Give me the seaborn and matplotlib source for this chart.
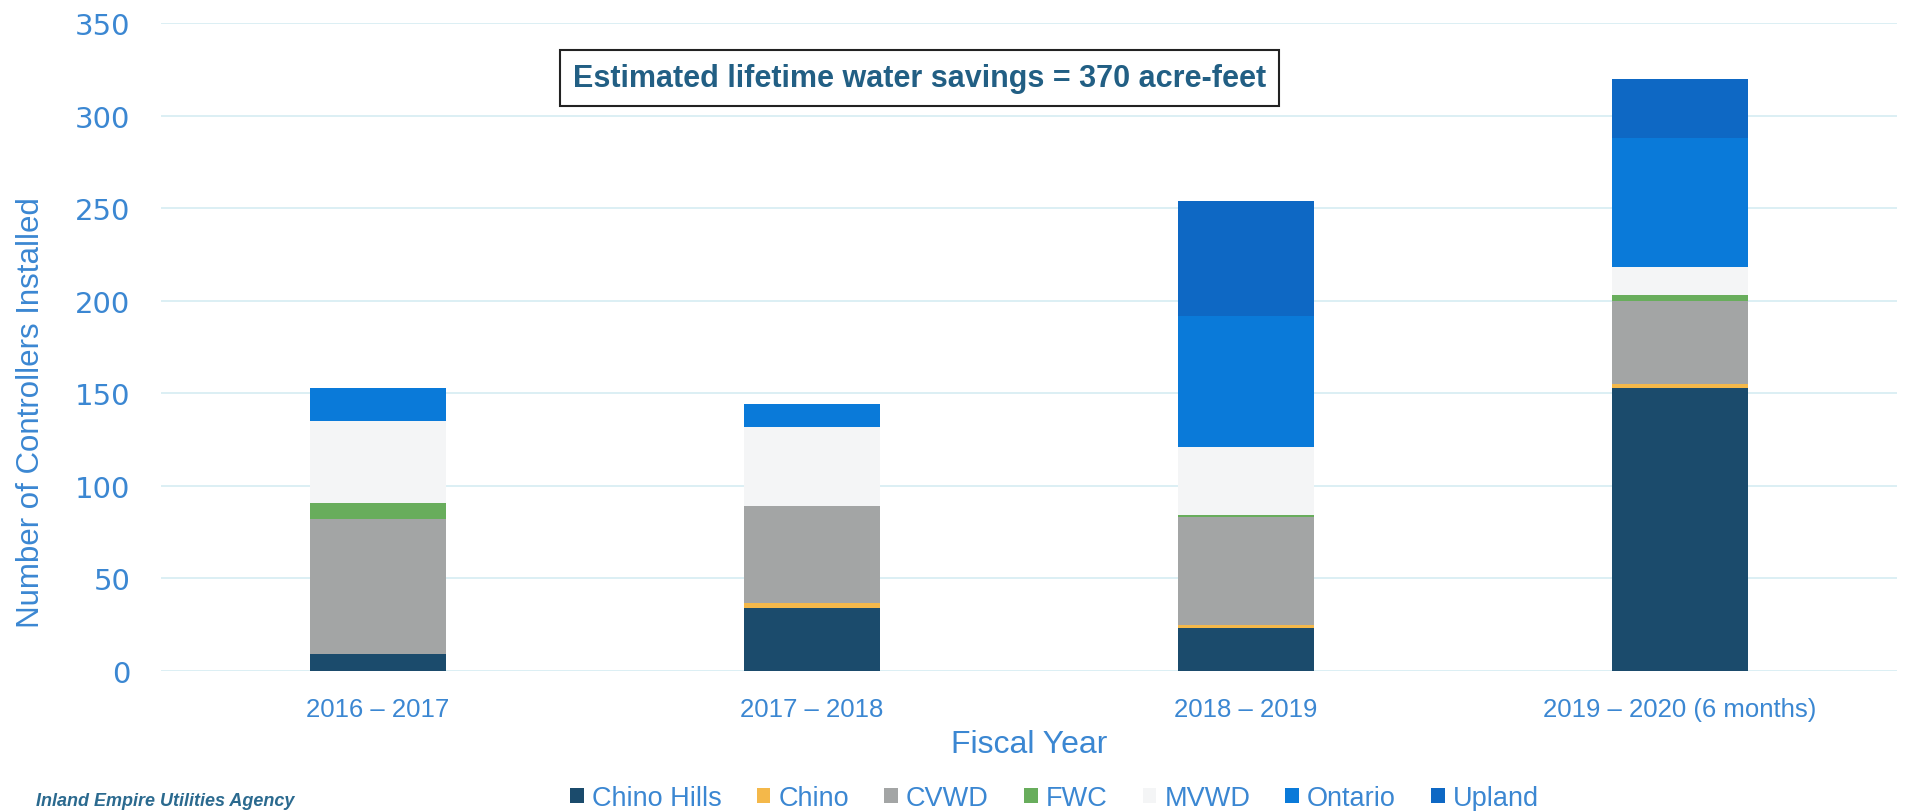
import numpy as np
import pandas as pd
import matplotlib
matplotlib.use('Agg')
import matplotlib.pyplot as plt
import seaborn as sns
from matplotlib import font_manager
from matplotlib.patches import Patch

years = ['2016 – 2017', '2017 – 2018', '2018 – 2019', '2019 – 2020 (6 months)']
agencies = ['Chino Hills', 'Chino', 'CVWD', 'FWC', 'MVWD', 'Ontario', 'Upland']
chino_hills = [9, 34, 23, 153]
chino = [0, 3, 2, 2]
cvwd = [73, 52, 58, 45]
fwc = [9, 0, 1, 3]
mvwd = [44, 43, 37, 15]
ontario = [18, 12, 71, 70]
upland = [0, 0, 62, 32]
colors = ['#1b4b6c', '#f4b84a', '#a3a5a5', '#68ad5c', '#f4f5f6', '#0a7ad9', '#0e68c4']
note = 'Estimated lifetime water savings = 370 acre-feet'

installed = {f.name for f in font_manager.fontManager.ttflist}
narrow = 'Liberation Sans Narrow' if 'Liberation Sans Narrow' in installed else 'Liberation Sans'
has_narrow = narrow != 'Liberation Sans'

sns.set_theme(style='white')
plt.rcParams['font.family'] = ['Liberation Sans', 'DejaVu Sans']
blue = '#3b87d2'

fig = plt.figure(figsize=(19.07, 8.12), dpi=100)
ax = fig.add_axes([0.0844, 0.1724, 0.9104, 0.798])

df = pd.DataFrame({'year': years, 'Chino Hills': chino_hills, 'Chino': chino, 'CVWD': cvwd,
                   'FWC': fwc, 'MVWD': mvwd, 'Ontario': ontario, 'Upland': upland})
bottom = np.zeros(len(years))
for name, col in zip(agencies, colors):
    sns.barplot(data=df, x='year', y=name, bottom=bottom, color=col, width=0.315,
                saturation=1, ax=ax, linewidth=0)
    bottom += df[name].values

ax.set_ylim(0, 350)
ax.set_xlim(-0.5, 3.5)
ax.set_yticks(range(0, 351, 50))
ax.yaxis.grid(True, color='#d9eef3', linewidth=1.3)
ax.xaxis.grid(False)
ax.set_axisbelow(True)
for s in ax.spines.values():
    s.set_visible(False)
ax.tick_params(axis='both', length=0, colors=blue)
ax.tick_params(axis='y', labelsize=21, pad=22)
ax.tick_params(axis='x', pad=19)
for t in ax.get_yticklabels():
    t.set_fontfamily('DejaVu Sans')
for t in ax.get_xticklabels():
    t.set_fontfamily(narrow)
    t.set_fontsize(21 if has_narrow else 18.5)
ax.set_ylabel('Number of Controllers Installed', fontsize=22.5, color=blue)
ax.yaxis.set_label_coords(-0.066, 0.40)
ax.set_xlabel('Fiscal Year', fontsize=25 if has_narrow else 23,
              color=blue, fontfamily=narrow)
ax.xaxis.set_label_coords(0.5, -0.089)

fig.text(0.482, 0.903, note, ha='center', va='center',
         fontsize=25 if has_narrow else 22, fontweight='bold',
         color='#225f84', fontfamily=narrow,
         bbox=dict(boxstyle='square,pad=0.42', facecolor='white', edgecolor='#222222', linewidth=1.5))

handles = [Patch(facecolor=c, edgecolor='none') for c in colors]
leg = fig.legend(handles, agencies, loc='center', bbox_to_anchor=(0.553, 0.016), ncol=7,
                 frameon=False, fontsize=19.5, handlelength=0.5, handleheight=0.5,
                 handletextpad=0.3, columnspacing=1.3)
for t in leg.get_texts():
    t.set_color(blue)

fig.text(0.019, 0.002, 'Inland Empire Utilities Agency', fontsize=13, style='italic',
         fontweight='bold', color='#2b6a8f', ha='left', va='bottom')

fig.savefig('out.png', dpi=100)
